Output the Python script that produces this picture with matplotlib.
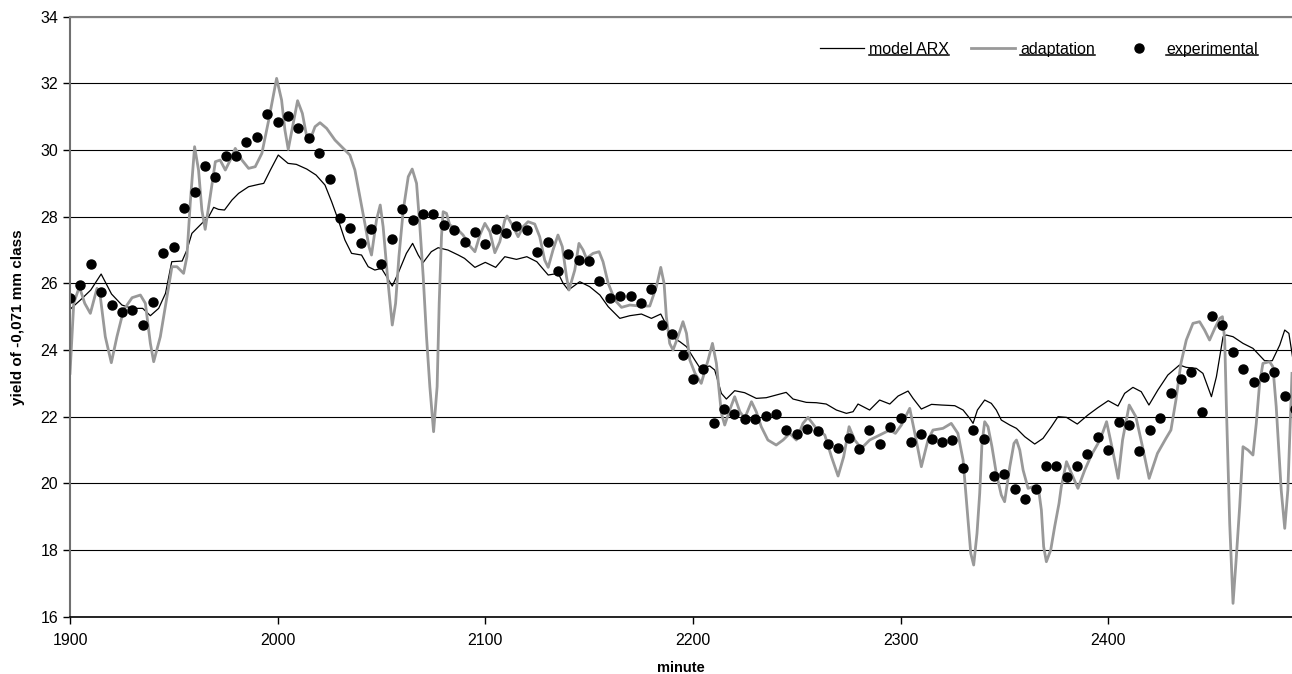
import matplotlib
matplotlib.use("Agg")
import matplotlib.pyplot as plt
import numpy as np
from matplotlib.lines import Line2D

plt.rcParams['font.family'] = ['Liberation Sans', 'DejaVu Sans']

# model ARX (thin black line)
arx_min = [1900, 1905, 1910, 1915, 1920, 1925, 1930, 1935, 1938.7, 1942.7, 1946, 1949, 1954,
           1956.3, 1958.7, 1963.5, 1966.8, 1969.2, 1971.5, 1974.4, 1978, 1981.2, 1986, 1990.9,
           1993.3, 1996.5, 2000.3, 2005, 2009, 2014, 2018.5, 2022.8, 2026, 2029.2, 2032.4,
           2035.6, 2040.4, 2043.6, 2046.8, 2050, 2052.5, 2055.2, 2058, 2062, 2065, 2067.7, 2070,
           2074, 2077.3, 2082, 2087, 2090, 2095, 2100, 2105, 2109.4, 2115, 2120, 2124.8, 2130.3,
           2135.1, 2137.5, 2140, 2145.5, 2150.3, 2155.2, 2159.2, 2164.8, 2169.6, 2175.2, 2180,
           2184.5, 2186.4, 2189.6, 2193.7, 2196.9, 2200.9, 2203.3, 2208.1, 2210.5, 2213.7,
           2216.1, 2220.1, 2224.9, 2230.5, 2235.3, 2240.1, 2244.9, 2248.2, 2254.6, 2259.4,
           2264.2, 2269.1, 2273.9, 2277.1, 2279.5, 2285.1, 2289.9, 2294.8, 2298.8, 2303.6, 2306,
           2310, 2314.9, 2319.7, 2326.1, 2330.1, 2333.3, 2334.9, 2337, 2340.5, 2343.7, 2346.1,
           2348.5, 2352.6, 2355.8, 2359.8, 2364.6, 2368.6, 2372.6, 2375.8, 2379.9, 2385.1,
           2390.2, 2395, 2400, 2404.7, 2407.9, 2411.9, 2415.9, 2419.6, 2423.9, 2428.7, 2434.3,
           2437.6, 2442.4, 2445.6, 2449.7, 2452.1, 2455.3, 2456.9, 2460.1, 2464.9, 2469.7,
           2475.3, 2479, 2482.6, 2485, 2487, 2489]
arx_val = [25.22, 25.5, 25.8, 26.28, 25.68, 25.35, 25.25, 25.25, 25.03, 25.25, 25.7, 26.65, 26.67,
           27.0, 27.5, 27.8, 28.0, 28.28, 28.22, 28.2, 28.5, 28.7, 28.9, 28.97,
           29.0, 29.4, 29.85, 29.6, 29.57, 29.43, 29.25, 28.95, 28.45, 27.9, 27.3,
           26.9, 26.85, 26.5, 26.4, 26.45, 26.2, 25.92, 26.3, 26.9, 27.2, 26.85, 26.62,
           26.95, 27.07, 27.0, 26.85, 26.75, 26.48, 26.63, 26.48, 26.8, 26.72, 26.8, 26.65, 26.25,
           26.3, 26.0, 25.8, 26.05, 25.9, 25.65, 25.3, 24.95, 25.03, 25.08, 24.95,
           25.08, 24.85, 24.4, 24.25, 24.1, 23.7, 23.47, 23.52, 23.4, 22.7,
           22.53, 22.78, 22.72, 22.55, 22.57, 22.65, 22.73, 22.53, 22.43, 22.42,
           22.38, 22.2, 22.1, 22.15, 22.38, 22.2, 22.5, 22.38, 22.62, 22.77, 22.55,
           22.23, 22.37, 22.35, 22.33, 22.2, 21.95, 21.8, 22.2, 22.5, 22.4, 22.2,
           21.9, 21.75, 21.65, 21.4, 21.18, 21.35, 21.7, 22.0, 21.98, 21.78,
           22.05, 22.27, 22.48, 22.32, 22.7, 22.88, 22.75, 22.35, 22.8, 23.25, 23.55,
           23.48, 23.45, 23.3, 22.6, 23.2, 24.4, 24.45, 24.4, 24.2, 24.05,
           23.68, 23.68, 24.15, 24.6, 24.5, 23.7]

# adaptation (thick grey line)
adapt_min = [1900.0, 1901.8, 1904.5, 1907.1, 1909.8, 1913.0, 1914.6, 1917.0, 1919.9, 1922.6,
             1925.8, 1929.9, 1933.9, 1936.3, 1938.7, 1940.3, 1943.5, 1946.7, 1949.1, 1951.5,
             1954.7, 1956.3, 1957.9, 1960.0, 1961.9, 1963.5, 1965.1, 1967.5, 1970.0, 1972.3,
             1974.8, 1977.2, 1979.6, 1982.8, 1986.0, 1989.2, 1992.4, 1995.7, 1999.5, 2001.9,
             2003.5, 2005.1, 2007.5, 2009.6, 2011.9, 2014.0, 2015.6, 2018.0, 2020.4, 2023.6,
             2027.6, 2031.6, 2034.8, 2037.2, 2039.6, 2042.0, 2044.0, 2045.2, 2047.6, 2049.4,
             2050.8, 2052.9, 2055.2, 2056.8, 2058.4, 2060.5, 2062.9, 2064.8, 2066.9, 2068.5,
             2070.1, 2071.7, 2073.3, 2075.1, 2076.8, 2077.8, 2078.9, 2079.7, 2081.3, 2082.9,
             2086.1, 2089.3, 2092.2, 2095.0, 2097.4, 2099.8, 2102.2, 2104.6, 2107.0, 2109.4,
             2110.5, 2113.4, 2115.8, 2118.2, 2120.6, 2123.8, 2126.2, 2128.6, 2130.3, 2132.6,
             2135.0, 2137.1, 2139.1, 2140.3, 2143.1, 2145.1, 2147.1, 2148.7, 2151.9, 2154.8,
             2156.7, 2159.2, 2162.4, 2165.6, 2169.6, 2174.4, 2179.2, 2182.4, 2184.5, 2186.1,
             2187.2, 2188.8, 2190.4, 2192.8, 2195.2, 2196.9, 2198.5, 2201.0, 2204.0, 2207.3,
             2209.4, 2211.3, 2213.7, 2215.3, 2217.7, 2220.1, 2222.6, 2224.9, 2228.2, 2230.5,
             2232.9, 2236.1, 2240.1, 2243.4, 2246.6, 2249.8, 2253.0, 2255.4, 2259.4, 2263.5,
             2266.7, 2269.9, 2272.6, 2275.2, 2277.9, 2281.1, 2285.1, 2289.9, 2294.8, 2297.5,
             2300.4, 2304.4, 2307.2, 2310.0, 2313.2, 2315.6, 2320.4, 2324.4, 2327.6, 2330.1,
             2331.7, 2333.8, 2335.2, 2336.8, 2338.1, 2339.2, 2340.5, 2342.1, 2344.0, 2346.1,
             2348.5, 2350.1, 2352.6, 2354.6, 2355.8, 2357.4, 2359.0, 2361.4, 2364.6, 2366.5,
             2367.8, 2368.9, 2370.2, 2372.3, 2374.2, 2376.3, 2377.4, 2379.9, 2382.3, 2385.4,
             2388.7, 2391.9, 2395.1, 2397.5, 2399.2, 2402.1, 2404.8, 2406.9, 2410.1, 2413.3,
             2416.5, 2419.7, 2423.7, 2427.8, 2430.2, 2432.6, 2435.0, 2437.6, 2440.8, 2444.0,
             2446.4, 2448.8, 2451.3, 2453.7, 2455.0, 2456.1, 2456.9, 2458.5, 2460.1, 2461.7,
             2463.3, 2464.9, 2467.3, 2469.7, 2471.3, 2472.9, 2474.5, 2477.7, 2479.3, 2480.9,
             2483.3, 2485.0, 2486.5, 2488.5]
adapt_val = [23.3, 25.4, 25.9, 25.4, 25.1, 25.85, 25.6, 24.4, 23.62, 24.4,
             25.2, 25.57, 25.65, 25.4, 24.2, 23.65, 24.4, 25.6, 26.5, 26.5,
             26.3, 26.8, 28.4, 30.1, 29.4, 28.2, 27.62, 28.6, 29.65, 29.7,
             29.4, 29.7, 30.05, 29.7, 29.45, 29.5, 29.9, 30.9, 32.15, 31.5,
             30.6, 30.02, 30.8, 31.48, 31.1, 30.4, 30.3, 30.7, 30.82, 30.65,
             30.3, 30.05, 29.85, 29.4, 28.6, 27.8, 27.1, 26.85, 27.9, 28.35,
             27.7, 26.2, 24.75, 25.4, 26.8, 28.2, 29.2, 29.43, 29.0, 27.7,
             26.2, 24.4, 22.9, 21.55, 22.9, 25.4, 27.4, 28.15, 28.1, 27.75,
             27.65, 27.45, 27.15, 26.95, 27.45, 27.8, 27.55, 26.92, 27.25, 27.9,
             28.02, 27.7, 27.4, 27.7, 27.85, 27.78, 27.4, 26.7, 26.48, 27.0,
             27.45, 27.1, 26.2, 25.8, 26.4, 27.2, 27.0, 26.75, 26.9, 26.95,
             26.65, 26.0, 25.5, 25.28, 25.35, 25.32, 25.32, 25.9, 26.48, 26.0,
             25.0, 24.2, 24.0, 24.4, 24.85, 24.5, 23.7, 23.3, 23.0, 23.7,
             24.2, 23.6, 22.1, 21.75, 22.2, 22.6, 22.15, 21.95, 22.45, 22.15,
             21.7, 21.3, 21.15, 21.3, 21.5, 21.3, 21.8, 21.98, 21.65, 21.45,
             20.8, 20.22, 20.8, 21.7, 21.3, 21.05, 21.3, 21.45, 21.6, 21.5,
             21.75, 22.25, 21.4, 20.5, 21.3, 21.6, 21.65, 21.8, 21.5, 20.7,
             19.5, 17.9, 17.55, 18.5, 19.7, 21.2, 21.85, 21.7, 21.1, 20.3,
             19.65, 19.45, 20.5, 21.2, 21.3, 21.0, 20.4, 19.85, 19.92, 19.8,
             19.2, 18.1, 17.65, 18.0, 18.7, 19.4, 19.9, 20.65, 20.3, 19.85,
             20.4, 20.85, 21.2, 21.55, 21.85, 21.0, 20.15, 21.3, 22.35, 22.0,
             21.1, 20.15, 20.9, 21.35, 21.6, 22.5, 23.6, 24.3, 24.8, 24.85,
             24.6, 24.3, 24.65, 24.95, 25.0, 24.3, 22.3, 18.8, 16.4, 17.8,
             19.3, 21.1, 21.0, 20.85, 21.8, 23.0, 23.6, 23.65, 23.5, 22.3,
             19.8, 18.65, 19.8, 23.3]

# experimental samples, every 5 minutes
exp_min = np.arange(1900, 2495, 5)
exp_val = [25.55, 25.95, 26.57, 25.74, 25.35, 25.13, 25.19, 24.74, 25.43, 26.91,
           27.1, 28.27, 28.73, 29.51, 29.2, 29.83, 29.83, 30.23, 30.39, 31.09,
           30.83, 31.01, 30.65, 30.37, 29.91, 29.12, 27.95, 27.66, 27.2, 27.63,
           26.57, 27.34, 28.24, 27.91, 28.09, 28.09, 27.74, 27.59, 27.24, 27.55,
           27.17, 27.63, 27.52, 27.71, 27.59, 26.95, 27.24, 26.38, 26.88, 26.7,
           26.67, 26.07, 25.56, 25.63, 25.63, 25.42, 25.84, 24.74, 24.49, 23.86,
           23.14, 23.43, 21.82, 22.22, 22.07, 21.93, 21.93, 22.03, 22.07, 21.6,
           21.49, 21.64, 21.58, 21.18, 21.07, 21.37, 21.04, 21.6, 21.18, 21.68,
           21.97, 21.25, 21.48, 21.33, 21.23, 21.29, 20.47, 21.61, 21.33, 20.22,
           20.28, 19.83, 19.54, 19.83, 20.53, 20.53, 20.18, 20.53, 20.88, 21.39,
           21.0, 21.85, 21.75, 20.97, 21.6, 21.97, 22.72, 23.13, 23.35, 22.13,
           25.03, 24.74, 23.95, 23.42, 23.03, 23.2, 23.35, 22.63, 22.23]

fig = plt.figure(figsize=(12.92, 6.74), dpi=100)
ax = fig.add_axes([70/1292, 1 - 616.7/674, 1 - 70/1292, 600/674])

ax.plot(arx_min, arx_val, color='black', lw=0.9, label='model ARX')
ax.plot(adapt_min, adapt_val, color='#999999', lw=2.0, solid_joinstyle='round', label='adaptation')
ax.plot(exp_min, exp_val, linestyle='none', marker='o', color='black', ms=6.5, label='experimental')

ax.set_xlim(1900, 2488.5)
ax.set_ylim(16, 34)
ax.set_xticks(range(1900, 2401, 100))
ax.set_yticks(range(16, 35, 2))
ax.grid(axis='y', color='black', lw=0.8)
ax.set_axisbelow(True)

ax.spines['right'].set_visible(False)
ax.spines['top'].set_color('#808080')
ax.spines['top'].set_linewidth(1.5)
ax.spines['left'].set_color('#707070')
ax.spines['left'].set_linewidth(1.5)
ax.spines['bottom'].set_color('black')
ax.spines['bottom'].set_linewidth(1.2)
ax.tick_params(axis='both', direction='out', length=5, width=1, labelsize=11.5)
ax.tick_params(axis='x', pad=7)

ax.set_xlabel('minute', fontsize=10.5, fontweight='bold', labelpad=9)
ax.set_ylabel('yield of -0,071 mm class', fontsize=11, fontweight='bold', labelpad=11)

leg = ax.legend(loc='center', bbox_to_anchor=(0.793, 0.946), ncol=3, frameon=False,
                fontsize=11.5, handlelength=2.7, handletextpad=0.35, columnspacing=1.4)

# underline legend entries like the original
fig.canvas.draw()
inv = fig.transFigure.inverted()
for t in leg.get_texts():
    bb = t.get_window_extent()
    y = bb.y0 + 1.5
    (x0, y0), (x1, y1) = inv.transform([(bb.x0, y), (bb.x1, y)])
    fig.add_artist(Line2D([x0, x1], [y0, y1], color='black', lw=1.1))

fig.savefig('out.png', dpi=100)
